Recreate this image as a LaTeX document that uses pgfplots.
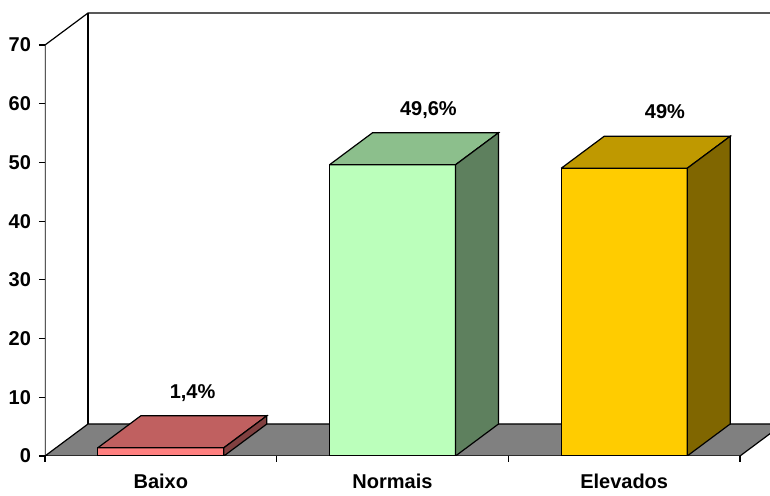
\documentclass[border=0pt]{standalone}
\usepackage{pgfplots}
\pgfplotsset{compat=1.18}
\usepackage{fontspec}
\setmainfont{Liberation Sans}

\definecolor{baixoF}{HTML}{FF8080}
\definecolor{baixoT}{HTML}{C06060}
\definecolor{baixoS}{HTML}{804040}
\definecolor{normF}{HTML}{BBFFBB}
\definecolor{normT}{HTML}{8CBF8C}
\definecolor{normS}{HTML}{5E805E}
\definecolor{elevF}{HTML}{FFCC00}
\definecolor{elevT}{HTML}{BF9900}
\definecolor{elevS}{HTML}{806600}
\definecolor{floorgray}{HTML}{808080}

\tikzset{
  face/.style={draw=black, line width=0.6pt, mark=none, line join=miter},
  lbl/.style={anchor=base, font=\fontsize{10}{12}\selectfont\bfseries},
}

% depth offset of the 3D view (axis units) and half bar width
\def\dx{0.1856}
\def\dy{5.45}
\def\hw{0.272}

% 3D bar: #1 centre, #2 value, #3 front, #4 top, #5 side colour,
% #6 label x position, #7 label text
\newcommand{\threedbar}[7]{%
  \pgfmathsetmacro\xl{#1-\hw}%
  \pgfmathsetmacro\xr{#1+\hw}%
  \pgfmathsetmacro\xlb{#1-\hw+\dx}%
  \pgfmathsetmacro\xrb{#1+\hw+\dx}%
  \pgfmathsetmacro\yb{#2+\dy}%
  \pgfmathsetmacro\ylab{#2+8.4}%
  \edef\doplot{%
    \noexpand\addplot[face, fill=#3] coordinates {(\xl,0) (\xr,0) (\xr,#2) (\xl,#2) (\xl,0)};
    \noexpand\addplot[face, fill=#4] coordinates {(\xl,#2) (\xr,#2) (\xrb,\yb) (\xlb,\yb) (\xl,#2)};
    \noexpand\addplot[face, fill=#5] coordinates {(\xr,0) (\xrb,\dy) (\xrb,\yb) (\xr,#2) (\xr,0)};
    \noexpand\node[lbl] at (axis cs:#6,\ylab) {#7};
  }\doplot
}

\begin{document}
\begin{tikzpicture}
\begin{axis}[
  scale only axis,
  width=362.5pt, height=228pt,
  xmin=0, xmax=3.1295,
  ymin=0, ymax=77.67,
  axis line style={draw=none},
  clip=true,
  xtick={0.5,1.5,2.5},
  xticklabels={Baixo,Normais,Elevados},
  minor xtick={0,1,2,3},
  major x tick style={draw=none},
  minor x tick style={draw=black, line width=0.6pt},
  ytick={0,10,...,70},
  y tick style={draw=black, line width=0.6pt},
  tick align=outside,
  major tick length=3pt,
  minor tick length=3pt,
  xtick pos=bottom,
  ytick pos=left,
  /pgf/number format/assume math mode=true,
  ticklabel style={font=\fontsize{10}{12}\selectfont\bfseries},
  xticklabel style={yshift=-2.5pt},
  yticklabel style={xshift=-0.5pt},
]
% floor of the 3D box
\addplot[face, fill=floorgray] coordinates {(0,0) (\dx,\dy) (3.1856,\dy) (3,0) (0,0)};
% value axis and back wall edges
\addplot[face] coordinates {(0,0) (0,70) (\dx,75.45) (3.4,75.45)};
\addplot[face] coordinates {(\dx,\dy) (\dx,75.45)};

\threedbar{0.5}{1.4}{baixoF}{baixoT}{baixoS}{0.637}{1,4\%}
\threedbar{1.5}{49.6}{normF}{normT}{normS}{1.655}{49,6\%}
\threedbar{2.5}{49}{elevF}{elevT}{elevS}{2.676}{49\%}
\end{axis}
\path (current axis.south west) ++(-22.5pt,-16.5pt);
\end{tikzpicture}
\end{document}
